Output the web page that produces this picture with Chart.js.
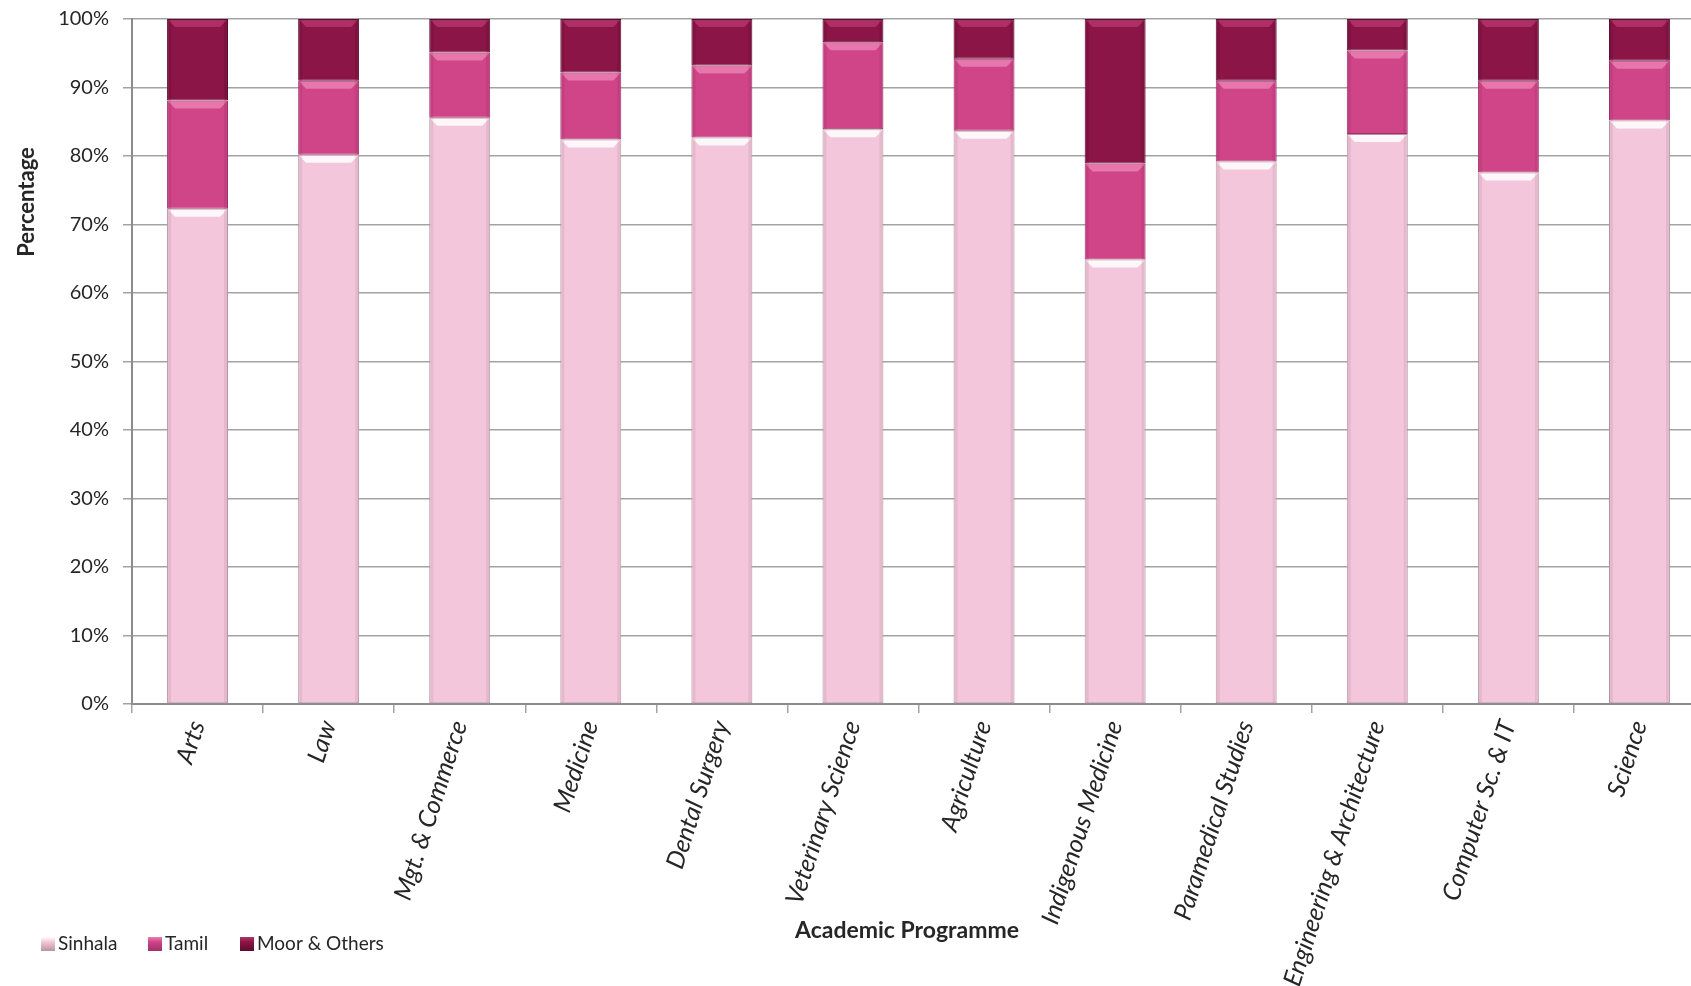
<!DOCTYPE html>
<html>
<head>
<meta charset="utf-8">
<title>Ethnic composition by academic programme</title>
<script src="https://cdn.jsdelivr.net/npm/chart.js@4.4.1/dist/chart.umd.min.js"></script>
<style>
  html, body { margin: 0; padding: 0; background: #fff; overflow: hidden; }
  /* canvas runs a little past the window on the right and top, like the cropped original */
  #wrap { width: 1705px; height: 993px; margin-top: -7px; position: relative; }
</style>
</head>
<body>
<div id="wrap"><canvas id="ethnicChart"></canvas></div>
<script>
// values (percent of students)
const programmes = ["Arts", "Law", "Mgt. & Commerce", "Medicine", "Dental Surgery",
    "Veterinary Science", "Agriculture", "Indigenous Medicine", "Paramedical Studies",
    "Engineering & Architecture", "Computer Sc. & IT", "Science"];
const sinhala = [72.3, 80.2, 85.6, 82.4, 82.7, 83.9, 83.7, 64.9, 79.2, 83.2, 77.6, 85.2];
const tamil   = [15.8, 10.8,  9.5,  9.8, 10.5, 12.7, 10.5, 14.0, 11.8, 12.2, 13.4,  8.7];
const moor    = [11.9,  9.0,  4.9,  7.8,  6.8,  3.4,  5.8, 21.1,  9.0,  4.6,  9.0,  6.1];
const yTicks  = [0, 10, 20, 30, 40, 50, 60, 70, 80, 90, 100];

const TEXT = "#262626";
const GRID = "#a3a3a3";
const SHIFT = 7; // canvas sits 7px above the page top

const fills = ["#f4c6dc", "#cf4587", "#8a1546"];
const edges = ["#b8949f", "#a1306a", "#5e0b2f"];
const shines = ["#ffffff", "#ea7fb2", "#b3346c"];

// Excel-style bevel on top of each segment + the outer labels
const extras = {
    id: "extras",
    afterDatasetsDraw(chart) {
        const ctx = chart.ctx;
        chart.data.datasets.forEach((ds, di) => {
            chart.getDatasetMeta(di).data.forEach(bar => {
                const p = bar.getProps(["x", "y", "base", "width"], true);
                const left = p.x - p.width / 2, right = p.x + p.width / 2;
                const top = Math.min(p.y, p.base), bottom = Math.max(p.y, p.base);
                const h = Math.min(8, bottom - top);
                ctx.save();
                ctx.beginPath();
                ctx.moveTo(left + 1, top + 1);
                ctx.lineTo(right - 1, top + 1);
                ctx.lineTo(right - 8, top + h);
                ctx.lineTo(left + 8, top + h);
                ctx.closePath();
                ctx.fillStyle = shines[di];
                ctx.globalAlpha = 0.85;
                ctx.fill();
                // darker side edges
                ctx.globalAlpha = 0.25;
                ctx.fillStyle = edges[di];
                ctx.fillRect(left + 1, top + 1, 3, bottom - top - 1);
                ctx.fillRect(right - 4, top + 1, 3, bottom - top - 1);
                ctx.restore();
            });
        });
    },
    afterDraw(chart) {
        const ctx = chart.ctx;
        ctx.save();
        ctx.fillStyle = TEXT;
        // y title
        ctx.font = "bold 22px Lato";
        ctx.textAlign = "center";
        ctx.textBaseline = "middle";
        ctx.translate(27, 202 + SHIFT);
        ctx.rotate(-Math.PI / 2);
        ctx.fillText("Percentage", 0, 0);
        ctx.restore();

        ctx.save();
        ctx.fillStyle = TEXT;
        ctx.font = "bold 23px Lato";
        ctx.textAlign = "center";
        ctx.textBaseline = "middle";
        ctx.fillText("Academic Programme", 907, 931 + SHIFT);

        // legend
        const lx = [41, 148, 240];
        const ly = 944 + SHIFT;
        ctx.font = "19px Lato";
        ctx.textAlign = "left";
        chart.data.datasets.forEach((ds, i) => {
            const g = ctx.createLinearGradient(0, ly - 7, 0, ly + 7);
            g.addColorStop(0, shines[i]);
            g.addColorStop(0.35, fills[i]);
            g.addColorStop(1, edges[i]);
            ctx.fillStyle = g;
            ctx.fillRect(lx[i], ly - 7, 14, 14);
            ctx.fillStyle = TEXT;
            ctx.fillText(ds.label, lx[i] + 17, ly);
        });
        ctx.restore();
    }
};

new Chart(document.getElementById("ethnicChart"), {
    type: "bar",
    data: {
        labels: programmes,
        datasets: [
            { label: "Sinhala", data: sinhala },
            { label: "Tamil", data: tamil },
            { label: "Moor & Others", data: moor }
        ].map((d, i) => ({
            ...d,
            backgroundColor: fills[i],
            borderColor: edges[i],
            borderWidth: 1,
            borderSkipped: false,
            categoryPercentage: 1,
            barPercentage: 0.465
        }))
    },
    options: {
        responsive: true,
        maintainAspectRatio: false,
        animation: false,
        layout: { padding: { top: 11, left: 0, right: 0, bottom: 0 } },
        plugins: {
            legend: { display: false },
            tooltip: { enabled: false }
        },
        scales: {
            x: {
                stacked: true,
                afterFit: s => { s.height = 282; },
                grid: { drawOnChartArea: false, tickLength: 9, color: GRID, lineWidth: 1.5 },
                border: { color: "#8c8c8c", width: 2 },
                ticks: {
                    minRotation: 72, maxRotation: 72, autoSkip: false, padding: 4,
                    color: TEXT, font: { family: "Lato", size: 25, style: "italic" }
                }
            },
            y: {
                stacked: true,
                min: 0,
                max: 100,
                afterFit: s => { s.width = 132; },
                afterBuildTicks: s => { s.ticks = yTicks.map(v => ({ value: v })); },
                grid: { color: GRID, lineWidth: 1.5, tickLength: 9 },
                border: { color: "#8c8c8c", width: 2 },
                ticks: {
                    padding: 14,
                    color: TEXT,
                    font: { family: "Lato", size: 20 },
                    callback: v => v + "%"
                }
            }
        }
    },
    plugins: [extras]
});
</script>
</body>
</html>
